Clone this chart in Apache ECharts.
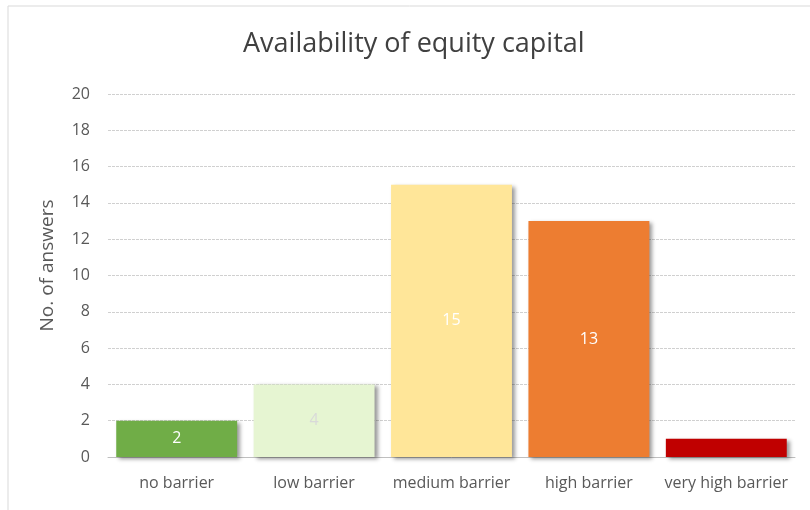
<!DOCTYPE html>
<html style="height: 100%">

<head>
    <meta charset="utf-8">
    <title>Availability of equity capital</title>
</head>

<body style="height: 100%; margin: 0; background: #fff">
    <div id="container" style="width: 810px; height: 510px"></div>
    <script src="https://cdn.jsdelivr.net/npm/echarts@6/dist/echarts.min.js"></script>
    <script type="text/javascript">
        var myChart = echarts.init(document.getElementById('container'));

        // data
        var categories = ['no barrier', 'low barrier', 'medium barrier', 'high barrier', 'very high barrier'];
        var answers = [2, 4, 15, 13, 1];
        var barColors = ['#70AD47', '#E6F5D2', '#FFE699', '#ED7D31', '#C00000'];
        var labelColors = ['#ffffff', '#d9d9d9', '#ffffff', '#ffffff', '#ffffff'];
        var labelShown = [true, true, true, true, false];

        var font = '"Open Sans", "Noto Sans", sans-serif';

        var barData = answers.map(function (v, i) {
            return {
                value: v,
                itemStyle: { color: barColors[i] },
                label: { show: labelShown[i], color: labelColors[i] }
            };
        });

        var option = {
            animation: false,
            backgroundColor: '#ffffff',
            title: {
                text: 'Availability of equity capital',
                left: 238,
                top: 26,
                textStyle: {
                    fontFamily: font,
                    fontSize: 27,
                    fontWeight: 'normal',
                    color: '#404040'
                }
            },
            graphic: [{
                type: 'rect',
                shape: { x: 8, y: 6, width: 820, height: 520 },
                style: { fill: 'none', stroke: '#d9d9d9', lineWidth: 1 },
                silent: true
            }],
            grid: {
                left: 108,
                right: 15,
                top: 94,
                bottom: 53
            },
            xAxis: {
                type: 'category',
                data: categories,
                axisTick: { show: false },
                axisLine: { lineStyle: { color: '#bfbfbf' } },
                axisLabel: {
                    interval: 0,
                    fontFamily: font,
                    fontSize: 16,
                    color: '#595959',
                    margin: 18
                }
            },
            yAxis: {
                type: 'value',
                min: 0,
                max: 20,
                interval: 2,
                name: 'No. of answers',
                nameLocation: 'middle',
                nameGap: 51,
                nameTextStyle: {
                    fontFamily: font,
                    fontSize: 19,
                    color: '#595959',
                    padding: [0, 0, 0, 20]
                },
                axisLabel: {
                    fontFamily: font,
                    fontSize: 16,
                    color: '#595959',
                    margin: 18
                },
                splitLine: { lineStyle: { color: '#d0d0d0', type: [3, 1] } }
            },
            series: [{
                type: 'bar',
                data: barData,
                barCategoryGap: '12%',
                itemStyle: {
                    shadowColor: 'rgba(0,0,0,0.4)',
                    shadowBlur: 4,
                    shadowOffsetX: 3,
                    shadowOffsetY: 2
                },
                label: {
                    show: true,
                    position: 'inside',
                    fontFamily: font,
                    fontSize: 16,
                    color: '#ffffff'
                }
            }]
        };
        myChart.setOption(option);
    </script>
</body>

</html>
